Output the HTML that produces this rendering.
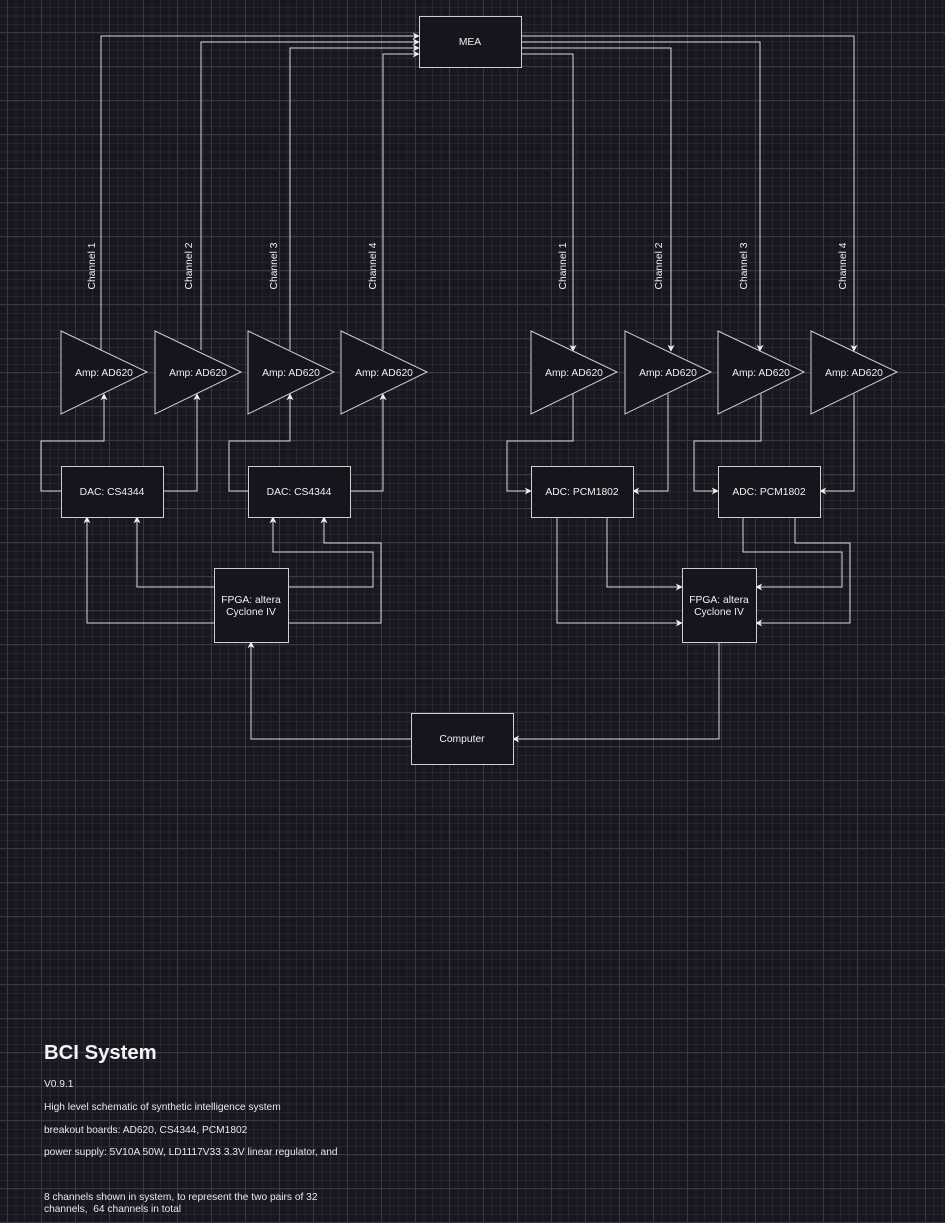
<!DOCTYPE html>
<html><head><meta charset="utf-8"><style>
html,body{margin:0;padding:0;}
body{width:945px;height:1223px;overflow:hidden;background-color:#18161f;
background-image:
linear-gradient(to right,#3a3842 1px,transparent 1px),
linear-gradient(to bottom,#3a3842 1px,transparent 1px),
linear-gradient(to right,#26242d 1px,transparent 1px),
linear-gradient(to bottom,#26242d 1px,transparent 1px);
background-size:34px 34px,34px 34px,8.5px 8.5px,8.5px 8.5px;
background-position:7px 32px,7px 32px,7px 7px,7px 7px;
font-family:"Liberation Sans",sans-serif;}
svg{position:absolute;left:0;top:0;}
.t{position:absolute;left:44px;color:#e8e8e8;font-size:10.2px;white-space:nowrap;}
</style></head><body>
<svg width="945" height="1223" xmlns="http://www.w3.org/2000/svg">
<defs><marker id="a" viewBox="0 0 10 10" refX="9" refY="5" markerWidth="7" markerHeight="7" orient="auto" markerUnits="userSpaceOnUse"><path d="M0,0 L10,5 L0,10 L3,5 z" fill="#f0f0f0"/></marker></defs>
<g fill="none" stroke="#d8d8d8" stroke-width="1">
<path d="M101,350 V36 H419" marker-end="url(#a)"/>
<path d="M201,350 V42 H419" marker-end="url(#a)"/>
<path d="M290,350 V48 H419" marker-end="url(#a)"/>
<path d="M383,350 V54 H419" marker-end="url(#a)"/>
<path d="M521,36 H854 V351" marker-end="url(#a)"/>
<path d="M521,42 H760 V351" marker-end="url(#a)"/>
<path d="M521,48 H671 V351" marker-end="url(#a)"/>
<path d="M521,54 H573 V351" marker-end="url(#a)"/>
<path d="M61,491 H41 V441 H104 V394" marker-end="url(#a)"/>
<path d="M163,491 H197 V394" marker-end="url(#a)"/>
<path d="M248,491 H229 V441 H290 V394" marker-end="url(#a)"/>
<path d="M350,491 H383 V394" marker-end="url(#a)"/>
<path d="M573,394 V441 H507 V491 H531" marker-end="url(#a)"/>
<path d="M668,394 V491 H633" marker-end="url(#a)"/>
<path d="M761,394 V441 H694 V491 H718" marker-end="url(#a)"/>
<path d="M854,394 V491 H820" marker-end="url(#a)"/>
<path d="M214,587 H137 V517" marker-end="url(#a)"/>
<path d="M214,623 H87 V517" marker-end="url(#a)"/>
<path d="M288,587 H373 V552 H273 V517" marker-end="url(#a)"/>
<path d="M288,623 H381 V543 H324 V517" marker-end="url(#a)"/>
<path d="M557,517 V623 H682" marker-end="url(#a)"/>
<path d="M607,517 V587 H682" marker-end="url(#a)"/>
<path d="M743,517 V552 H842 V587 H756" marker-end="url(#a)"/>
<path d="M795,517 V543 H850 V623 H756" marker-end="url(#a)"/>
<path d="M719,642 V739 H513" marker-end="url(#a)"/>
<path d="M411,739 H251 V642" marker-end="url(#a)"/>
</g>
<g fill="#18141d" stroke="#cfcfcf" stroke-width="1">
<rect x="419.5" y="16.5" width="102" height="51"/>
<path d="M61,331 L147,372 L61,414 Z"/><path d="M155,331 L241,372 L155,414 Z"/>
<path d="M248,331 L334,372 L248,414 Z"/><path d="M341,331 L427,372 L341,414 Z"/>
<path d="M531,331 L617,372 L531,414 Z"/><path d="M625,331 L711,372 L625,414 Z"/>
<path d="M718,331 L804,372 L718,414 Z"/><path d="M811,331 L897,372 L811,414 Z"/>
<rect x="61.5" y="466.5" width="102" height="51"/><rect x="248.5" y="466.5" width="102" height="51"/>
<rect x="531.5" y="466.5" width="102" height="51"/><rect x="718.5" y="466.5" width="102" height="51"/>
<rect x="214.5" y="568.5" width="74" height="74"/><rect x="682.5" y="568.5" width="74" height="74"/>
<rect x="411.5" y="713.5" width="102" height="51"/>
</g>
<g fill="#f0f0f0" font-family="Liberation Sans, sans-serif" font-size="10.3" text-anchor="middle">
<text x="470" y="45">MEA</text>
<text x="104" y="376">Amp: AD620</text><text x="198" y="376">Amp: AD620</text>
<text x="291" y="376">Amp: AD620</text><text x="384" y="376">Amp: AD620</text>
<text x="574" y="376">Amp: AD620</text><text x="668" y="376">Amp: AD620</text>
<text x="761" y="376">Amp: AD620</text><text x="854" y="376">Amp: AD620</text>
<text x="112" y="495">DAC: CS4344</text><text x="299" y="495">DAC: CS4344</text>
<text x="582" y="495">ADC: PCM1802</text><text x="769" y="495">ADC: PCM1802</text>
<text x="251" y="603">FPGA: altera</text><text x="251" y="615">Cyclone IV</text>
<text x="719" y="603">FPGA: altera</text><text x="719" y="615">Cyclone IV</text>
<text x="462" y="742">Computer</text>
<text transform="translate(95,266) rotate(-90)">Channel 1</text>
<text transform="translate(192,266) rotate(-90)">Channel 2</text>
<text transform="translate(277,266) rotate(-90)">Channel 3</text>
<text transform="translate(376,266) rotate(-90)">Channel 4</text>
<text transform="translate(566,266) rotate(-90)">Channel 1</text>
<text transform="translate(662,266) rotate(-90)">Channel 2</text>
<text transform="translate(747,266) rotate(-90)">Channel 3</text>
<text transform="translate(846,266) rotate(-90)">Channel 4</text>
</g>
</svg>
<div class="t" style="top:1042px;font-size:20.3px;font-weight:bold;color:#f4f4f4">BCI System</div>
<div class="t" style="top:1079px">V0.9.1</div>
<div class="t" style="top:1102px">High level schematic of synthetic intelligence system</div>
<div class="t" style="top:1125px">breakout boards: AD620, CS4344, PCM1802</div>
<div class="t" style="top:1147px">power supply: 5V10A 50W, LD1117V33 3.3V linear regulator, and</div>
<div class="t" style="top:1192px">8 channels shown in system, to represent the two pairs of 32</div>
<div class="t" style="top:1204px">channels,&nbsp; 64 channels in total</div>
</body></html>
